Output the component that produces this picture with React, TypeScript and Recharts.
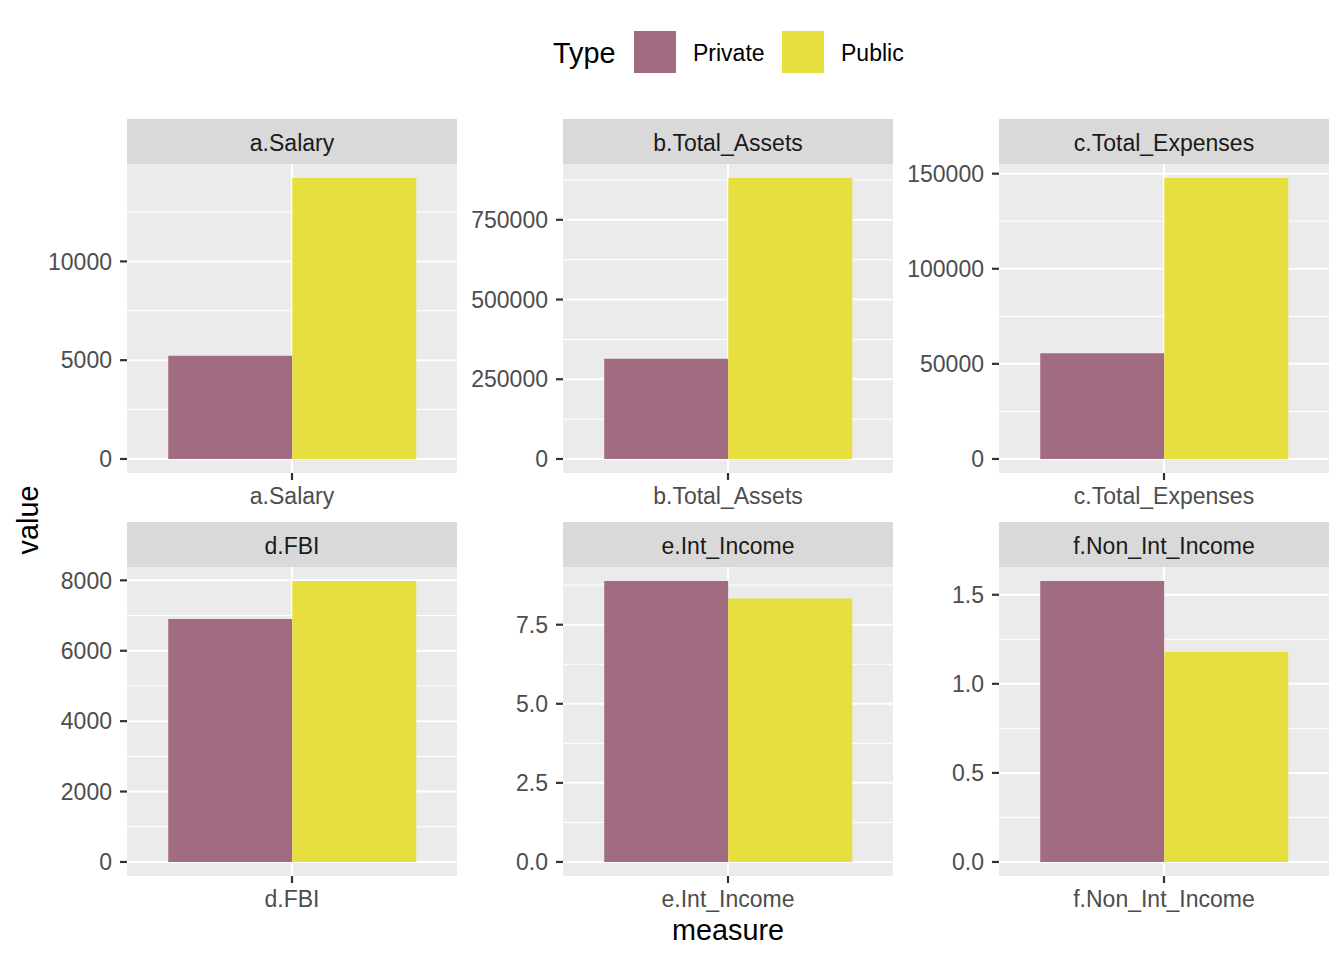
import React from "react";
import {
  BarChart,
  Bar,
  XAxis,
  YAxis,
  CartesianGrid,
} from "recharts";

// facet labels, one panel each
const measures = [
  "a.Salary",
  "b.Total_Assets",
  "c.Total_Expenses",
  "d.FBI",
  "e.Int_Income",
  "f.Non_Int_Income",
];
const privateValues = [5220, 314000, 55600, 6900, 8.88, 1.577];
const publicValues = [14220, 881000, 147700, 7980, 8.33, 1.178];

// free y scales: major ticks per panel
const yTicks = [
  [0, 5000, 10000],
  [0, 250000, 500000, 750000],
  [0, 50000, 100000, 150000],
  [0, 2000, 4000, 6000, 8000],
  [0, 2.5, 5, 7.5],
  [0, 0.5, 1, 1.5],
];
const tickDecimals = [0, 0, 0, 0, 1, 1];

const seriesNames = ["Private", "Public"];
const seriesColors = ["#A16B82", "#E6DF3F"];

const FONT = "'Liberation Sans', Arial, Helvetica, sans-serif";
const PANEL_X = [127, 563, 999];
const PANEL_Y = [164, 567];
const PANEL_W = 330;
const PANEL_H = 309;
const STRIP_H = 45;
const Y_AXIS_W = 120;
const X_AXIS_H = 50;
const TOP_PAD = 20; // room for tick labels sitting at the panel's top edge
const TICK_LEN = 7;
const TICK_GAP = 8;

const BG = "#EBEBEB";
const STRIP_BG = "#D9D9D9";
const TICK_COLOR = "#333333";
const LABEL_COLOR = "#4D4D4D";

// ggplot-style minor breaks: halfway between majors, inside the domain
function minorBreaks(ticks: number[], lo: number, hi: number) {
  const step = ticks[1] - ticks[0];
  const out: number[] = [];
  for (let v = ticks[0] - step / 2; v <= hi; v += step) {
    if (v >= lo) out.push(v);
  }
  return out;
}

// tick mark + label drawn together so the mark can be thick and dark
function YTick(props: any) {
  const { x, y, payload, decimals } = props;
  const edge = x + TICK_GAP;
  return (
    <g>
      <line
        x1={edge}
        x2={edge + TICK_LEN}
        y1={y}
        y2={y}
        stroke={TICK_COLOR}
        strokeWidth={2.2}
      />
      <text
        x={x}
        y={y}
        dy="0.355em"
        textAnchor="end"
        fill={LABEL_COLOR}
        fontSize={23}
        fontFamily={FONT}
      >
        {Number(payload.value).toFixed(decimals)}
      </text>
    </g>
  );
}

function XTick(props: any) {
  const { x, y, payload } = props;
  const edge = y - TICK_GAP;
  return (
    <g>
      <line
        x1={x}
        x2={x}
        y1={edge - TICK_LEN}
        y2={edge}
        stroke={TICK_COLOR}
        strokeWidth={2.2}
      />
      <text
        x={x}
        y={y}
        dy="0.71em"
        textAnchor="middle"
        fill={LABEL_COLOR}
        fontSize={23}
        fontFamily={FONT}
      >
        {payload.value}
      </text>
    </g>
  );
}

function Panel({ idx }: { idx: number }) {
  const col = idx % 3;
  const row = Math.floor(idx / 3);
  const left = PANEL_X[col];
  const top = PANEL_Y[row];

  const data = [
    {
      measure: measures[idx],
      Private: privateValues[idx],
      Public: publicValues[idx],
    },
  ];
  const max = Math.max(privateValues[idx], publicValues[idx]);
  const lo = -0.05 * max;
  const hi = 1.05 * max;
  const ticks = yTicks[idx];
  const minors = minorBreaks(ticks, lo, hi);

  return (
    <>
      {/* strip */}
      <div
        style={{
          position: "absolute",
          left,
          top: top - STRIP_H,
          width: PANEL_W,
          height: STRIP_H - 3,
          paddingTop: 3,
          background: STRIP_BG,
          color: "#1A1A1A",
          fontSize: 23,
          lineHeight: `${STRIP_H - 3}px`,
          textAlign: "center",
        }}
      >
        {measures[idx]}
      </div>
      <div
        style={{
          position: "absolute",
          left: left - Y_AXIS_W,
          top: top - TOP_PAD,
        }}
      >
        <BarChart
          width={Y_AXIS_W + PANEL_W}
          height={TOP_PAD + PANEL_H + X_AXIS_H}
          data={data}
          margin={{ top: TOP_PAD, right: 0, bottom: 0, left: 0 }}
          barCategoryGap="12.5%"
          barGap={0}
        >
          <CartesianGrid
            fill={BG}
            stroke="#FFFFFF"
            strokeWidth={1}
            vertical={false}
            horizontalValues={minors}
          />
          <CartesianGrid
            stroke="#FFFFFF"
            strokeWidth={2}
            horizontalValues={ticks}
            verticalCoordinatesGenerator={(p: any) => [
              p.offset.left + p.offset.width / 2,
            ]}
          />
          <XAxis
            dataKey="measure"
            type="category"
            height={X_AXIS_H}
            axisLine={false}
            tickLine={false}
            tickSize={TICK_LEN}
            tickMargin={TICK_GAP}
            tick={<XTick />}
          />
          <YAxis
            type="number"
            width={Y_AXIS_W}
            domain={[lo, hi]}
            allowDataOverflow
            ticks={ticks}
            interval={0}
            axisLine={false}
            tickLine={false}
            tickSize={TICK_LEN}
            tickMargin={TICK_GAP}
            tick={<YTick decimals={tickDecimals[idx]} />}
          />
          {seriesNames.map((s, i) => (
            <Bar
              key={s}
              dataKey={s}
              fill={seriesColors[i]}
              isAnimationActive={false}
            />
          ))}
        </BarChart>
      </div>
    </>
  );
}

export default function App() {
  return (
    <div
      style={{
        position: "absolute",
        left: 0,
        top: 0,
        width: 1344,
        height: 960,
        background: "#FFFFFF",
        fontFamily: FONT,
        overflow: "hidden",
      }}
    >
      {/* legend */}
      <div
        style={{
          position: "absolute",
          left: 553,
          top: 32,
          height: 42,
          lineHeight: "42px",
          fontSize: 28.8,
          color: "#000",
        }}
      >
        Type
      </div>
      {seriesNames.map((s, i) => (
        <React.Fragment key={s}>
          <div
            style={{
              position: "absolute",
              left: 634 + i * 148,
              top: 31,
              width: 42,
              height: 42,
              background: seriesColors[i],
            }}
          />
          <div
            style={{
              position: "absolute",
              left: 693 + i * 148,
              top: 32,
              height: 42,
              lineHeight: "42px",
              fontSize: 23,
              color: "#000",
            }}
          >
            {s}
          </div>
        </React.Fragment>
      ))}

      {measures.map((m, i) => (
        <Panel key={m} idx={i} />
      ))}

      {/* axis titles */}
      <div
        style={{
          position: "absolute",
          left: 28,
          top: 520,
          transform: "translate(-50%, -50%) rotate(-90deg)",
          fontSize: 28.8,
          color: "#000",
          whiteSpace: "nowrap",
        }}
      >
        value
      </div>
      <div
        style={{
          position: "absolute",
          left: 728,
          top: 930,
          transform: "translate(-50%, -50%)",
          fontSize: 28.8,
          color: "#000",
          whiteSpace: "nowrap",
        }}
      >
        measure
      </div>
    </div>
  );
}
